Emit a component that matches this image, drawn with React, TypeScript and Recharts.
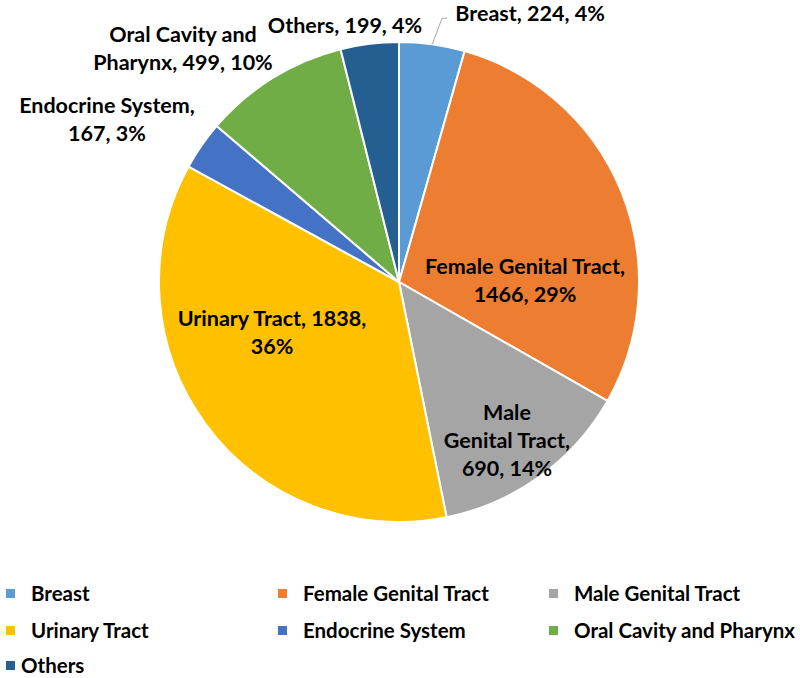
import React from "react";
import { PieChart, Pie, Cell, Legend } from "recharts";

const sites = ["Breast", "Female Genital Tract", "Male Genital Tract", "Urinary Tract", "Endocrine System", "Oral Cavity and Pharynx", "Others"];
const cases = [224, 1466, 690, 1838, 167, 499, 199];
const colors = ["#5B9BD5", "#ED7D31", "#A5A5A5", "#FFC000", "#4472C4", "#70AD47", "#255E91"];

// how many words go on each line of a data label
const labelBreaks = [[3], [3, 2], [1, 2, 2], [3, 1], [2, 2], [3, 3], [3]];
// label centre relative to the pie centre (Excel placed these by hand)
const labelPos = [
    { dx: 131, dy: -269 },
    { dx: 126, dy: -2 },
    { dx: 108, dy: 158 },
    { dx: -127, dy: 50 },
    { dx: -292, dy: -163 },
    { dx: -216, dy: -234 },
    { dx: -54, dy: -257 },
];

const data = sites.map((name, i) => ({ name, value: cases[i] }));
const total = cases.reduce((a, b) => a + b, 0);

const FONT = "Lato, 'Open Sans', sans-serif";
const FS = 21.5;
const LEGEND_FS = 20.5;
const LINE_H = 28;

const renderLabel = (props: any) => {
    const { cx, cy, index, name, value, midAngle, outerRadius } = props;
    const pct = Math.round((value / total) * 100);
    const words = `${name}, ${value}, ${pct}%`.split(" ");
    const lines: string[] = [];
    let k = 0;
    labelBreaks[index].forEach((n) => {
        lines.push(words.slice(k, k + n).join(" "));
        k += n;
    });
    const pos = labelPos[index];
    const x = cx + pos.dx;
    const y0 = cy + pos.dy - ((lines.length - 1) * LINE_H) / 2;

    let leader = null;
    if (index === 0) {
        const rad = (midAngle * Math.PI) / 180;
        const ax = cx + outerRadius * Math.cos(rad);
        const ay = cy - outerRadius * Math.sin(rad);
        leader = <polyline points={`${ax},${ay} ${ax + 10},${ay - 26} ${ax + 15},${ay - 26}`} fill="none" stroke="#A6A6A6" strokeWidth={1} />;
    }

    return (
        <g>
            {leader}
            <text x={x} y={y0} textAnchor="middle" dominantBaseline="central" fontFamily={FONT} fontWeight={700} fontSize={FS} fill="#000">
                {lines.map((l, i) => (
                    <tspan key={i} x={x} y={y0 + i * LINE_H}>{l}</tspan>
                ))}
            </text>
        </g>
    );
};

const legendCols = [10, 282, 553];
const legendRows = [593, 630, 665];

const LegendGrid = () => (
    <div style={{ position: "relative", width: 800, height: 678, fontFamily: FONT, fontWeight: 700, fontSize: LEGEND_FS, color: "#000" }}>
        {sites.map((s, i) => {
            const col = i % 3;
            const row = Math.floor(i / 3);
            const gap = row === 2 ? 6 : 16;
            return (
                <div key={s} style={{ position: "absolute", left: legendCols[col] - 4, top: legendRows[row] - 14, height: 28, display: "flex", alignItems: "center", whiteSpace: "nowrap" }}>
                    <span style={{ width: 9, height: 9, background: colors[i], display: "inline-block", marginRight: gap }} />
                    <span>{s}</span>
                </div>
            );
        })}
    </div>
);

export default function App() {
    return (
        <div style={{ position: "absolute", left: 0, top: 0, width: 800, height: 678, background: "#fff", overflow: "hidden" }}>
            <PieChart width={800} height={678} margin={{ top: 0, right: 0, bottom: 0, left: 0 }}>
                <Pie
                    data={data}
                    dataKey="value"
                    nameKey="name"
                    cx={399}
                    cy={282}
                    outerRadius={240}
                    startAngle={90}
                    endAngle={-270}
                    stroke="#fff"
                    strokeWidth={2}
                    label={renderLabel}
                    labelLine={false}
                    isAnimationActive={false}
                >
                    {data.map((d, i) => (
                        <Cell key={d.name} fill={colors[i]} />
                    ))}
                </Pie>
                <Legend content={<LegendGrid />} wrapperStyle={{ left: 0, top: 0, width: 800, height: 678, pointerEvents: "none" }} />
            </PieChart>
        </div>
    );
}
